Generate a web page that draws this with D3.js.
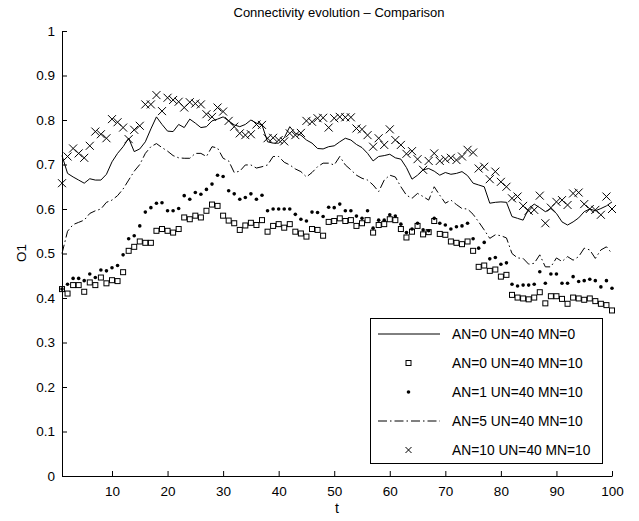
<!DOCTYPE html>
<html><head><meta charset="utf-8">
<script src="https://cdn.jsdelivr.net/npm/d3@7"></script>
<style>body{margin:0;background:#fff}svg{display:block}text{font-family:"Liberation Sans",Arial,sans-serif;fill:#000}</style>
</head><body>
<svg id="c" width="639" height="521"></svg>
<script>
const title = "Connectivity evolution – Comparison";
const xLabel = "t", yLabel = "O1";
const xTicks = [10,20,30,40,50,60,70,80,90,100];
const yTicks = [0,0.1,0.2,0.3,0.4,0.5,0.6,0.7,0.8,0.9,1];
const seriesNames = ["AN=0 UN=40 MN=0","AN=0 UN=40 MN=10","AN=1 UN=40 MN=10","AN=5 UN=40 MN=10","AN=10 UN=40 MN=10"];

const s1 = [0.72,0.68,0.672,0.665,0.658,0.668,0.665,0.665,0.678,0.706,0.725,0.74,0.759,0.729,0.735,0.751,0.78,0.807,0.79,0.775,
0.774,0.79,0.783,0.802,0.793,0.783,0.785,0.798,0.802,0.807,0.798,0.789,0.785,0.79,0.8,0.793,0.789,0.751,0.748,0.748,
0.76,0.785,0.77,0.766,0.755,0.748,0.736,0.735,0.74,0.742,0.751,0.759,0.755,0.745,0.738,0.725,0.708,0.718,0.72,0.723,
0.715,0.712,0.693,0.667,0.676,0.688,0.691,0.685,0.676,0.682,0.678,0.68,0.684,0.675,0.658,0.654,0.65,0.613,0.615,0.616,
0.615,0.583,0.579,0.575,0.601,0.611,0.603,0.594,0.601,0.59,0.571,0.564,0.571,0.58,0.594,0.6,0.596,0.601,0.607,0.616];

const s2 = [0.42,0.41,0.429,0.429,0.414,0.435,0.429,0.446,0.433,0.44,0.438,0.458,0.506,0.515,0.527,0.524,0.524,0.551,0.555,0.551,
0.547,0.555,0.581,0.577,0.585,0.581,0.596,0.61,0.607,0.585,0.574,0.568,0.553,0.563,0.569,0.564,0.575,0.549,0.562,0.566,
0.558,0.566,0.549,0.545,0.538,0.555,0.553,0.54,0.571,0.573,0.579,0.573,0.575,0.562,0.568,0.575,0.547,0.564,0.566,0.577,
0.575,0.555,0.536,0.549,0.562,0.543,0.548,0.573,0.544,0.542,0.527,0.524,0.521,0.527,0.506,0.47,0.473,0.461,0.464,0.448,
0.452,0.407,0.401,0.399,0.397,0.401,0.413,0.388,0.404,0.404,0.398,0.387,0.401,0.399,0.396,0.399,0.393,0.387,0.384,0.372];

const s3 = [0.42,0.431,0.444,0.444,0.439,0.454,0.446,0.463,0.461,0.468,0.473,0.497,0.533,0.54,0.562,0.593,0.603,0.613,0.614,0.596,
0.596,0.601,0.63,0.622,0.637,0.633,0.644,0.656,0.676,0.673,0.641,0.634,0.622,0.626,0.634,0.622,0.631,0.596,0.6,0.6,
0.6,0.6,0.588,0.577,0.573,0.593,0.592,0.583,0.604,0.603,0.611,0.596,0.596,0.584,0.579,0.596,0.557,0.575,0.575,0.587,
0.584,0.566,0.547,0.555,0.568,0.553,0.551,0.579,0.568,0.564,0.555,0.56,0.562,0.568,0.533,0.512,0.525,0.488,0.491,0.476,
0.479,0.431,0.427,0.429,0.429,0.431,0.459,0.433,0.454,0.454,0.433,0.433,0.448,0.437,0.439,0.442,0.439,0.425,0.439,0.422];

const s4 = [0.5,0.55,0.565,0.57,0.575,0.59,0.596,0.6,0.615,0.62,0.63,0.645,0.665,0.685,0.7,0.725,0.74,0.747,0.738,0.73,
0.72,0.715,0.714,0.714,0.725,0.725,0.718,0.74,0.737,0.714,0.708,0.682,0.685,0.699,0.699,0.692,0.695,0.699,0.718,0.718,
0.705,0.699,0.69,0.684,0.672,0.682,0.695,0.703,0.703,0.699,0.718,0.699,0.688,0.676,0.669,0.665,0.654,0.639,0.665,0.676,
0.672,0.65,0.631,0.624,0.635,0.628,0.62,0.65,0.631,0.613,0.62,0.61,0.601,0.6,0.588,0.571,0.553,0.534,0.542,0.54,
0.535,0.5,0.49,0.489,0.476,0.478,0.497,0.47,0.47,0.49,0.482,0.493,0.485,0.493,0.512,0.508,0.489,0.508,0.515,0.5];

const s5 = [0.658,0.718,0.736,0.725,0.715,0.742,0.774,0.768,0.759,0.802,0.795,0.783,0.757,0.778,0.787,0.835,0.835,0.856,0.82,0.85,
0.845,0.841,0.828,0.84,0.837,0.835,0.813,0.807,0.828,0.819,0.798,0.785,0.77,0.766,0.768,0.79,0.789,0.759,0.76,0.755,
0.752,0.77,0.766,0.771,0.798,0.796,0.804,0.805,0.783,0.804,0.807,0.806,0.806,0.781,0.779,0.766,0.74,0.759,0.744,0.779,
0.755,0.744,0.724,0.73,0.712,0.688,0.708,0.725,0.708,0.712,0.715,0.71,0.718,0.733,0.727,0.691,0.695,0.667,0.684,0.661,
0.65,0.624,0.628,0.607,0.596,0.598,0.63,0.568,0.603,0.616,0.62,0.609,0.635,0.637,0.611,0.6,0.598,0.587,0.628,0.6];

const tVals = d3.range(1, 101);
const svg = d3.select("#c");
const x = d3.scaleLinear().domain([1,100]).range([62,612]);
const y = d3.scaleLinear().domain([0,1]).range([476,31]);

// axes
const gx = svg.append("g").attr("transform","translate(0,476)")
  .call(d3.axisBottom(x).tickValues(xTicks).tickSize(-5).tickPadding(10).tickSizeOuter(0));
const gy = svg.append("g").attr("transform","translate(62,0)")
  .call(d3.axisLeft(y).tickValues(yTicks).tickSize(-5).tickPadding(7).tickSizeOuter(0).tickFormat(d3.format("")));
[gx,gy].forEach(g=>{
  g.selectAll("text").style("font-size","13.5px").style("font-family","'Liberation Sans',Arial,sans-serif");
  g.selectAll("line,path").attr("stroke","#000").attr("stroke-width",1);
});

const pts = arr => tVals.map((t,i)=>[t,arr[i]]);
const line = d3.line().x(d=>x(d[0])).y(d=>y(d[1]));

const plot = svg.append("g");
plot.append("path").datum(pts(s1)).attr("d",line).attr("fill","none").attr("stroke","#000").attr("stroke-width",1);
plot.append("path").datum(pts(s4)).attr("d",line).attr("fill","none").attr("stroke","#000").attr("stroke-width",1)
  .attr("stroke-dasharray","9,3,1.5,3");
plot.selectAll(".sq").data(pts(s2)).join("rect").attr("x",d=>x(d[0])-2.5).attr("y",d=>y(d[1])-2.5)
  .attr("width",5).attr("height",5).attr("fill","none").attr("stroke","#000").attr("stroke-width",1);
plot.selectAll(".dt").data(pts(s3)).join("circle").attr("cx",d=>x(d[0])).attr("cy",d=>y(d[1])).attr("r",1.8).attr("fill","#000");
const cross = (g, cx, cy, h) => g.append("path").attr("d",`M${cx-h},${cy-h}L${cx+h},${cy+h}M${cx-h},${cy+h}L${cx+h},${cy-h}`)
  .attr("stroke","#000").attr("stroke-width",1).attr("fill","none");
pts(s5).forEach(d=>cross(plot, x(d[0]), y(d[1]), 4));

// title & labels
svg.append("text").attr("x",339).attr("y",17).attr("text-anchor","middle").style("font-size","13px").text(title);
svg.append("text").attr("x",337).attr("y",513).attr("text-anchor","middle").style("font-size","14px").text(xLabel);
svg.append("text").attr("transform","translate(26,253) rotate(-90)").attr("text-anchor","middle").style("font-size","13.5px").text(yLabel);

// legend
const lg = svg.append("g");
lg.append("rect").attr("x",370.5).attr("y",318.5).attr("width",232).attr("height",145).attr("fill","#fff").attr("stroke","#000");
const rowY = i => 334 + i*29;
seriesNames.forEach((n,i)=>{
  const cy = rowY(i);
  lg.append("text").attr("x",452).attr("y",cy+5).style("font-size","13.8px").text(n);
  if(i===0) lg.append("line").attr("x1",378).attr("x2",440).attr("y1",cy).attr("y2",cy).attr("stroke","#000");
  if(i===3) lg.append("line").attr("x1",378).attr("x2",440).attr("y1",cy).attr("y2",cy).attr("stroke","#000").attr("stroke-dasharray","9,3,1.5,3");
  if(i===1) lg.append("rect").attr("x",406).attr("y",cy-2.5).attr("width",5).attr("height",5).attr("fill","none").attr("stroke","#000");
  if(i===2) lg.append("circle").attr("cx",408.5).attr("cy",cy).attr("r",1.8).attr("fill","#000");
  if(i===4) cross(lg, 408.5, cy, 3);
});
</script>
</body></html>
